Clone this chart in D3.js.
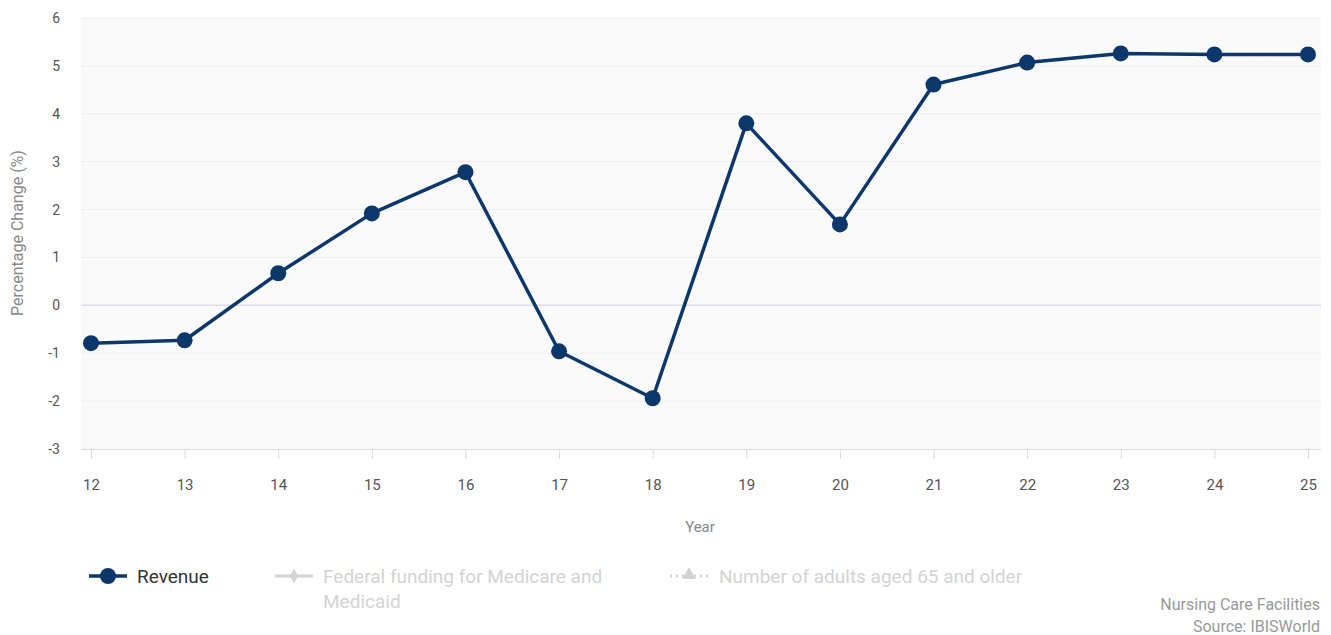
<!DOCTYPE html>
<html>
<head>
<meta charset="utf-8">
<script src="https://cdn.jsdelivr.net/npm/d3@7"></script>
<style>
  body { margin: 0; background: #fff; font-family: Roboto, 'Noto Sans', sans-serif; }
  svg { display: block; }
</style>
</head>
<body>
<svg id="chart" width="1331" height="635"></svg>
<script>
// Data
const years = ['12', '13', '14', '15', '16', '17', '18', '19', '20', '21', '22', '23', '24', '25']
const revenue = [-0.79, -0.73, 0.67, 1.92, 2.78, -0.96, -1.94, 3.8, 1.69, 4.61, 5.07, 5.26, 5.24, 5.24]
const yTicks = [6, 5, 4, 3, 2, 1, 0, -1, -2, -3]
const legendItems = ['Revenue', 'Federal funding for Medicare and|Medicaid', 'Number of adults aged 65 and older']

const navy = '#0c376b'
const faded = '#d3d3d3'

const svg = d3.select('#chart')
const plot = { left: 81, right: 1321, top: 18, bottom: 449 }

// Scales
let x = d3.scalePoint()
  .domain(years)
  .range([91, 1308])
let y = d3.scaleLinear()
  .domain([-3, 6])
  .range([plot.bottom, plot.top])

// Plot background
svg.append('rect')
  .attr('x', plot.left)
  .attr('y', plot.top)
  .attr('width', plot.right - plot.left)
  .attr('height', plot.bottom - plot.top)
  .attr('fill', '#fafafb')

// Grid lines
svg.append('g')
  .selectAll('line')
  .data(yTicks.filter(d => d !== -3))
  .join('line')
  .attr('x1', plot.left)
  .attr('x2', plot.right)
  .attr('y1', d => y(d))
  .attr('y2', d => y(d))
  .attr('stroke', d => d === 0 ? '#dcdce8' : '#efeff2')
  .attr('stroke-width', d => d === 0 ? 1.5 : 1)

// Y axis labels
let yAxis = svg.append('g')
  .attr('transform', `translate(${plot.left - 21},0)`)
  .call(d3.axisLeft(y).tickValues(yTicks).tickSize(0).tickPadding(0).tickFormat(d => String(d)))
yAxis.select('.domain').remove()
yAxis.selectAll('text')
  .attr('fill', '#555')
  .style('font-size', '14px')
  .style('font-family', 'Roboto, sans-serif')

// X axis
let xAxis = svg.append('g')
  .attr('transform', `translate(0,${plot.bottom})`)
  .call(d3.axisBottom(x).tickSize(10).tickPadding(20))
xAxis.select('.domain')
  .attr('d', `M${plot.left},0.5H${plot.right}`)
  .attr('stroke', '#d8d8e4')
xAxis.selectAll('.tick line').attr('stroke', '#d8d8e4')
xAxis.selectAll('text')
  .attr('fill', '#555')
  .style('font-size', '15px')
  .style('font-family', 'Roboto, sans-serif')

// Axis titles
svg.append('text')
  .attr('transform', `translate(23,233) rotate(-90)`)
  .attr('text-anchor', 'middle')
  .attr('fill', '#888')
  .style('font-size', '16px')
  .text('Percentage Change (%)')

svg.append('text')
  .attr('x', 700)
  .attr('y', 532)
  .attr('text-anchor', 'middle')
  .attr('fill', '#888')
  .style('font-size', '15px')
  .text('Year')

// Revenue line
let line = d3.line()
  .x((d, i) => x(years[i]))
  .y(d => y(d))

svg.append('path')
  .datum(revenue)
  .attr('d', line)
  .attr('fill', 'none')
  .attr('stroke', navy)
  .attr('stroke-width', 3.5)
  .attr('stroke-linejoin', 'round')

svg.append('g')
  .selectAll('circle')
  .data(revenue)
  .join('circle')
  .attr('cx', (d, i) => x(years[i]))
  .attr('cy', d => y(d))
  .attr('r', 8)
  .attr('fill', navy)

// Legend
let legend = svg.append('g').style('font-size', '19px')

let l1 = legend.append('g').attr('transform', 'translate(89,576)')
l1.append('line').attr('x1', 0).attr('x2', 38).attr('stroke', navy).attr('stroke-width', 3.5)
l1.append('circle').attr('cx', 19).attr('r', 8).attr('fill', navy)
l1.append('text').attr('x', 48).attr('y', 7).attr('fill', '#333').text(legendItems[0])

let l2 = legend.append('g').attr('transform', 'translate(275,576)')
l2.append('line').attr('x1', 0).attr('x2', 38).attr('stroke', faded).attr('stroke-width', 3)
l2.append('path').attr('d', d3.symbol(d3.symbolDiamond, 60)).attr('transform', 'translate(19,0)').attr('fill', faded)
legendItems[1].split('|').forEach((t, i) => {
  l2.append('text').attr('x', 48).attr('y', 7 + i * 25).attr('fill', faded).text(t)
})

let l3 = legend.append('g').attr('transform', 'translate(670,576)')
l3.append('line').attr('x1', 0).attr('x2', 38).attr('stroke', faded).attr('stroke-width', 3)
  .attr('stroke-dasharray', '2,4')
l3.append('path').attr('d', d3.symbol(d3.symbolTriangle, 80)).attr('transform', 'translate(19,-1)').attr('fill', faded)
l3.append('text').attr('x', 49).attr('y', 7).attr('fill', faded).text(legendItems[2])

// Source
let src = svg.append('g')
  .attr('text-anchor', 'end')
  .attr('fill', '#999')
  .style('font-size', '16px')
src.append('text').attr('x', 1320).attr('y', 610).text('Nursing Care Facilities')
src.append('text').attr('x', 1320).attr('y', 632).text('Source: IBISWorld')
</script>
</body>
</html>
